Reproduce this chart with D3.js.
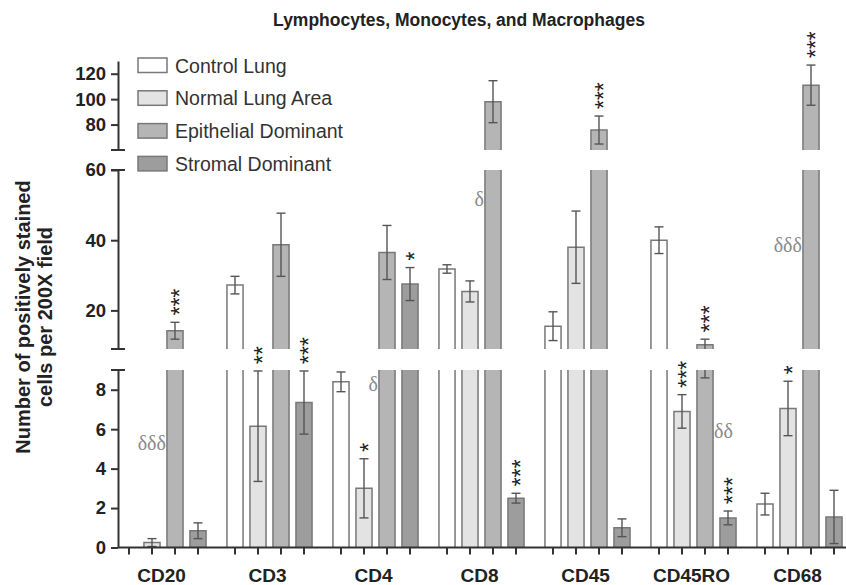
<!DOCTYPE html>
<html>
<head>
<meta charset="utf-8">
<script src="https://cdn.jsdelivr.net/npm/d3@7"></script>
<style>
  body { margin: 0; background: #fff; }
  text { font-family: Arial, "Liberation Sans", sans-serif; }
</style>
</head>
<body>
<div id="chart"></div>
<script>
// datos
const categories = ["CD20", "CD3", "CD4", "CD8", "CD45", "CD45RO", "CD68"];
const seriesNames = ["Control Lung", "Normal Lung Area", "Epithelial Dominant", "Stromal Dominant"];

const controlLung   = [0,    27.2, 8.4,  31.8, 15.5, 40,   2.2];
const controlErr    = [0,    2.5,  0.5,  1.2,  4.1,  3.8,  0.55];
const normalLung    = [0.25, 6.15, 3.0,  25.4, 38,   6.9,  7.05];
const normalErr     = [0.2,  2.8,  1.5,  3,    10.3, 0.85, 1.38];
const epithelial    = [14.2, 38.7, 36.5, 98,   75.7, 10.2, 111];
const epithelialErr = [2.4,  9,    7.7,  16.5, 11,   1.6,  15.8];
const stromal       = [0.85, 7.35, 27.5, 2.5,  1.0,  1.5,  1.55];
const stromalErr    = [0.4,  1.6,  4.7,  0.25, 0.45, 0.35, 1.35];

// asteriscos: [categoria, indice de serie, texto]
const stars = [
  ["CD20", 2, "***"], ["CD3", 1, "**"], ["CD3", 3, "***"], ["CD4", 1, "*"], ["CD4", 3, "*"],
  ["CD8", 3, "***"], ["CD45", 2, "***"], ["CD45RO", 1, "***"], ["CD45RO", 2, "***"],
  ["CD45RO", 3, "***"], ["CD68", 1, "*"], ["CD68", 2, "***"]
];
// deltas: [categoria, texto, valor en el eje, lado de la barra epitelial]
const deltas = [
  ["CD20", "δδδ", 5.3, "left"], ["CD4", "δ", 8.3, "left"], ["CD8", "δ", 51.8, "left"],
  ["CD45RO", "δδ", 5.9, "right"], ["CD68", "δδδ", 38.7, "left"]
];

const yTicksLow = [0, 2, 4, 6, 8];
const yTicksMid = [20, 40, 60];
const yTicksHigh = [80, 100, 120];

const values = [controlLung, normalLung, epithelial, stromal];
const errors = [controlErr, normalErr, epithelialErr, stromalErr];
const fills = ["#ffffff", "#e3e3e3", "#b5b5b5", "#9d9d9d"];

const width = 846, height = 585;
const axisX = 118;

const svg = d3.select("#chart").append("svg")
  .attr("width", width)
  .attr("height", height);

// eje y cortado en tres tramos
const segments = [
  { lo: 0,  hi: 9,   y: d3.scaleLinear().domain([0, 9]).range([547.5, 370]),  ticks: yTicksLow },
  { lo: 9,  hi: 60,  y: d3.scaleLinear().domain([9, 60]).range([349, 170]),   ticks: yTicksMid },
  { lo: 60, hi: 130, y: d3.scaleLinear().domain([60, 130]).range([150, 61]),  ticks: yTicksHigh }
];

function pieces(a, b) {
  return segments.filter(s => b > s.lo && a < s.hi)
    .map(s => ({ s: s, from: Math.max(a, s.lo), to: Math.min(b, s.hi) }));
}
function yOf(v) {
  const s = segments.find(s => v >= s.lo && v <= s.hi);
  return s ? s.y(v) : null;
}

const x0 = d3.scaleBand().domain(categories).range([110.5, 110.5 + 106 * 7]);
const x1 = d3.scaleBand().domain(d3.range(4)).range([7, 99]).paddingInner(0.3).paddingOuter(0.15);

// titulo
svg.append("text")
  .attr("x", 459).attr("y", 26)
  .attr("text-anchor", "middle")
  .style("font-size", "17.5px").style("font-weight", "bold").style("fill", "#222")
  .text("Lymphocytes, Monocytes, and Macrophages");

// titulo del eje y
const yTitle = svg.append("text")
  .attr("transform", "translate(0,317) rotate(-90)")
  .attr("text-anchor", "middle")
  .style("font-size", "20px").style("font-weight", "bold").style("fill", "#222");
yTitle.append("tspan").attr("x", 0).attr("y", 30).text("Number of positively stained");
yTitle.append("tspan").attr("x", 0).attr("y", 52).text("cells per 200X field");

// barras
const barG = svg.append("g");
categories.forEach((cat, ci) => {
  values.forEach((arr, si) => {
    const v = arr[ci];
    if (v <= 0) return;
    const bx = x0(cat) + x1(si);
    const bw = x1.bandwidth();
    pieces(0, v).forEach(p => {
      const yt = p.s.y(p.to), yb = p.s.y(p.from);
      barG.append("rect")
        .attr("x", bx).attr("y", yt)
        .attr("width", bw).attr("height", yb - yt)
        .attr("fill", fills[si]);
      let d = "M" + bx + "," + yb + "V" + yt;
      if (p.to === v) d += "H" + (bx + bw);
      else d += "M" + (bx + bw) + "," + yt;
      d += "V" + yb;
      barG.append("path")
        .attr("d", d)
        .attr("fill", "none")
        .attr("stroke", "#787878")
        .attr("stroke-width", 1.5);
    });
  });
});

// barras de error
const errG = svg.append("g").attr("stroke", "#555").attr("stroke-width", 1.4).attr("fill", "none");
categories.forEach((cat, ci) => {
  values.forEach((arr, si) => {
    const v = arr[ci], e = errors[si][ci];
    if (e <= 0) return;
    const cx = x0(cat) + x1(si) + x1.bandwidth() / 2;
    pieces(v - e, v + e).forEach(p => {
      errG.append("line")
        .attr("x1", cx).attr("x2", cx)
        .attr("y1", p.s.y(p.from)).attr("y2", p.s.y(p.to));
    });
    [v - e, v + e].forEach(ev => {
      const yy = yOf(ev);
      if (yy === null) return;
      errG.append("line")
        .attr("x1", cx - 4.5).attr("x2", cx + 4.5)
        .attr("y1", yy).attr("y2", yy);
    });
  });
});

// asteriscos
stars.forEach(([cat, si, txt]) => {
  const ci = categories.indexOf(cat);
  const top = values[si][ci] + errors[si][ci];
  const cx = x0(cat) + x1(si) + x1.bandwidth() / 2;
  const yy = yOf(top) - 7;
  svg.append("text")
    .attr("transform", "translate(" + cx + "," + yy + ") rotate(-90)")
    .attr("dy", "0.57em")
    .style("font-size", "23px").style("fill", "#222")
    .text(txt);
});

// deltas
deltas.forEach(([cat, txt, v, side]) => {
  const bx = x0(cat) + x1(2);
  svg.append("text")
    .attr("x", side === "left" ? bx - 1 : bx + x1.bandwidth() + 1)
    .attr("y", yOf(v))
    .attr("dy", "0.35em")
    .attr("text-anchor", side === "left" ? "end" : "start")
    .style("font-family", "'Liberation Serif', 'DejaVu Serif', serif")
    .style("font-size", "20px").style("fill", "#8a8a8a")
    .text(txt);
});

// ejes y
segments.forEach(s => {
  const g = svg.append("g")
    .attr("transform", "translate(" + axisX + ",0)")
    .call(d3.axisLeft(s.y).tickValues(s.ticks).tickSize(7).tickSizeOuter(0).tickPadding(5));
  g.select(".domain").attr("stroke", "#333").attr("stroke-width", 2);
  g.selectAll(".tick line").attr("stroke", "#333").attr("stroke-width", 2);
  g.selectAll(".tick text")
    .style("font-size", "18.5px").style("font-weight", "bold").style("fill", "#222")
    .style("font-family", "Arial, 'Liberation Sans', sans-serif");
});

// remates de los cortes del eje
const caps = [segments[0].y(9), segments[1].y(9), segments[1].y(60), segments[2].y(60)];
svg.selectAll(".cap").data(caps).enter().append("line")
  .attr("x1", axisX - 7).attr("x2", axisX + 7)
  .attr("y1", d => d).attr("y2", d => d)
  .attr("stroke", "#333").attr("stroke-width", 2);

// eje x
const baseY = segments[0].y(0);
svg.append("line")
  .attr("x1", axisX).attr("x2", width)
  .attr("y1", baseY).attr("y2", baseY)
  .attr("stroke", "#333").attr("stroke-width", 2);
categories.forEach(cat => {
  d3.range(4).forEach(si => {
    const cx = x0(cat) + x1(si) + x1.bandwidth() / 2;
    svg.append("line")
      .attr("x1", cx).attr("x2", cx)
      .attr("y1", baseY).attr("y2", baseY + 7)
      .attr("stroke", "#333").attr("stroke-width", 2);
  });
  svg.append("text")
    .attr("x", x0(cat) + 51).attr("y", 582)
    .attr("text-anchor", "middle")
    .style("font-size", "19px").style("font-weight", "bold").style("fill", "#222")
    .text(cat);
});

// leyenda
const legend = svg.append("g");
seriesNames.forEach((name, i) => {
  const ly = 58 + i * 32.8;
  legend.append("rect")
    .attr("x", 138).attr("y", ly)
    .attr("width", 29).attr("height", 14.5)
    .attr("fill", fills[i]).attr("stroke", "#787878").attr("stroke-width", 1.5);
  legend.append("text")
    .attr("x", 175).attr("y", ly + 14.5)
    .style("font-size", "19.5px").style("fill", "#333")
    .text(name);
});
</script>
</body>
</html>
